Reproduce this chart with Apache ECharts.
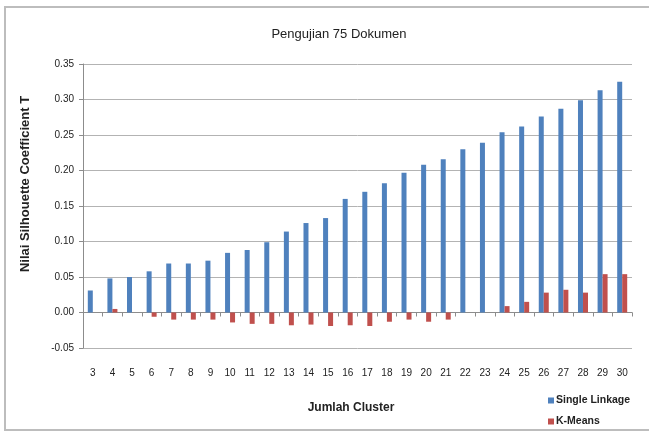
<!DOCTYPE html>
<html>
<head>
<meta charset="utf-8">
<script src="https://cdn.jsdelivr.net/npm/echarts@6/dist/echarts.min.js"></script>
<style>
html,body{margin:0;padding:0;background:#fff;}
#chart{width:649px;height:433px;}
</style>
</head>
<body>
<div id="chart"></div>
<script>
var categories = ['3','4','5','6','7','8','9','10','11','12','13','14','15','16','17','18','19','20','21','22','23','24','25','26','27','28','29','30'];
var singleLinkage = [0.031,0.048,0.050,0.058,0.069,0.069,0.073,0.084,0.088,0.099,0.114,0.126,0.133,0.160,0.170,0.182,0.197,0.208,0.216,0.230,0.239,0.254,0.262,0.276,0.287,0.299,0.313,0.325];
var kMeans = [0,0.005,0,-0.006,-0.010,-0.010,-0.010,-0.014,-0.016,-0.016,-0.018,-0.017,-0.019,-0.018,-0.019,-0.013,-0.010,-0.013,-0.010,0,0,0.009,0.015,0.028,0.032,0.028,0.054,0.054];
var seriesNames = ['Single Linkage','K-Means'];
var titleText = 'Pengujian 75 Dokumen';
var xName = 'Jumlah Cluster';
var yName = 'Nilai Silhouette Coefficient T';

var chart = echarts.init(document.getElementById('chart'), null, {renderer:'canvas'});
var font = 'Liberation Sans';
chart.setOption({
  animation:false,
  backgroundColor:'#fff',
  graphic:[{
    type:'rect', shape:{x:5,y:7,width:660,height:423},
    style:{fill:'none', stroke:'#bdbdbd', lineWidth:2}, silent:true
  },{
    type:'text', x:351, y:408,
    style:{text:xName, fill:'#222', font:'bold 12px "Liberation Sans"', textAlign:'center', textVerticalAlign:'middle'}
  },{
    type:'text', x:25, y:184, rotation:Math.PI/2,
    style:{text:yName, fill:'#222', font:'bold 13px "Liberation Sans"', textAlign:'center', textVerticalAlign:'middle'}
  }],
  title:{
    text:titleText, left:334, top:23, textAlign:'center',
    textStyle:{fontFamily:font, fontSize:13, fontWeight:'normal', color:'#222'}
  },
  legend:{
    orient:'vertical', left:543, top:390, itemWidth:6, itemHeight:6, itemGap:10,
    icon:'rect',
    textStyle:{fontFamily:font, fontSize:10.5, fontWeight:'bold', color:'#222', padding:[0,0,0,-3]},
    data:seriesNames
  },
  grid:{left:83, top:64, width:549, height:284},
  xAxis:[{
    type:'category', data:categories, position:'bottom',
    axisLine:{show:false, onZero:false}, axisTick:{show:false},
    axisLabel:{margin:20, fontFamily:font, fontSize:10, color:'#222', interval:0},
    splitLine:{show:false}
  },{
    type:'category', data:categories, position:'bottom',
    axisLine:{show:true, onZero:true, lineStyle:{color:'#8c8c8c', width:1}},
    axisTick:{show:true, length:4, lineStyle:{color:'#8c8c8c'}},
    axisLabel:{show:false}, splitLine:{show:false}
  }],
  yAxis:{
    type:'value', min:-0.05, max:0.35, interval:0.05,
    axisLine:{show:true, lineStyle:{color:'#8c8c8c'}},
    axisTick:{show:true, length:4, lineStyle:{color:'#8c8c8c'}},
    axisLabel:{fontFamily:font, fontSize:10, color:'#222', margin:9,
      formatter:function(v){return v.toFixed(2);}},
    splitLine:{show:true, lineStyle:{color:'#b3b3b3', width:1}}
  },
  series:[{
    name:seriesNames[0], type:'bar', data:singleLinkage, xAxisIndex:0,
    barWidth:5, barGap:'0%', itemStyle:{color:'#4F81BD'}
  },{
    name:seriesNames[1], type:'bar', data:kMeans, xAxisIndex:0,
    barWidth:5, barGap:'0%', itemStyle:{color:'#C0504D'}
  }]
});
</script>
</body>
</html>
